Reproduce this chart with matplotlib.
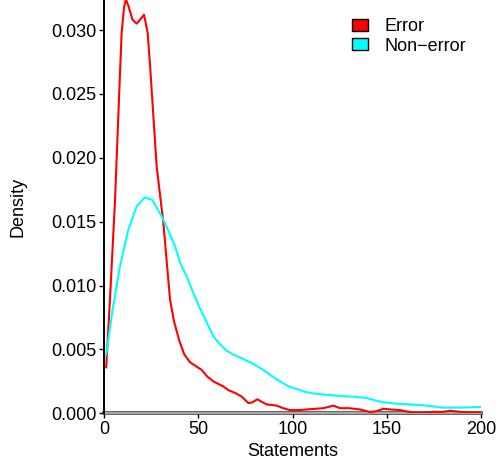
import numpy as np
import matplotlib
matplotlib.use('Agg')
import matplotlib.pyplot as plt
from matplotlib.patches import Patch

plt.rcParams['font.family'] = ['Liberation Sans', 'DejaVu Sans']

# density curves (y in units of 1e-3)
err_x = [1, 3, 5.7, 7.8, 9.2, 10.5, 11.5, 13, 15, 17.2, 19.5, 21.1, 23, 24.3, 27.8,
         31.3, 34.9, 37, 40, 42.5, 45.5, 48.5, 51.7, 54.5, 57.9, 60.5, 63.2, 66,
         69.4, 73, 76.5, 78.5, 81.3, 83.5, 86.2, 91.5, 95, 98.6, 103, 107.5, 112,
         116.3, 119, 121.6, 125.2, 130, 135.8, 141, 144, 148.2, 152, 157, 164, 170,
         175, 179, 183.6, 190, 200]
err_y = [3.6, 8.9, 16.7, 24.6, 29.8, 31.8, 32.4, 31.8, 30.8, 30.5, 30.9, 31.2, 29.8,
         27.2, 19.3, 15.0, 8.9, 7.2, 5.6, 4.6, 4.0, 3.7, 3.4, 2.9, 2.5, 2.3, 2.1, 1.8,
         1.6, 1.3, 0.8, 0.85, 1.1, 0.9, 0.7, 0.6, 0.4, 0.25, 0.25, 0.3, 0.35,
         0.4, 0.5, 0.6, 0.4, 0.4, 0.3, 0.1, 0.15, 0.35, 0.3, 0.25, 0.05, 0.05,
         0.12, 0.1, 0.2, 0.1, 0.05]

non_x = [1, 4.5, 8.3, 12.8, 17.2, 21.6, 25.5, 30.5, 34, 37.5, 40.2, 43.5, 47.3, 50.5,
         54.4, 58, 61.4, 65, 68.5, 73, 77.4, 81, 84.4, 89, 93.3, 98, 102.2, 106, 111,
         118, 125.2, 132, 139.3, 144, 148.2, 157, 167.7, 174, 180, 190, 200]
non_y = [4.6, 8.2, 11.5, 14.4, 16.2, 16.9, 16.7, 15.4, 14.3, 13.1, 11.8, 10.8, 9.4, 8.3,
         7.1, 6.0, 5.4, 4.9, 4.6, 4.3, 4.0, 3.7, 3.4, 2.9, 2.5, 2.1, 1.9, 1.7, 1.55,
         1.45, 1.36, 1.3, 1.2, 1.0, 0.86, 0.73, 0.65, 0.55, 0.44, 0.45, 0.5]

labels = ['Error', 'Non\u2212error']
colours = ['#ff0000', '#00ffff']

fig = plt.figure(figsize=(4.97, 4.59), dpi=100)
ax = fig.add_axes([104.3/497, 1 - 413.3/459, (481 - 104.3)/497, 413.3/459])

ax.plot(err_x, np.array(err_y)/1000, color=colours[0], lw=1.5, zorder=3)
ax.plot(non_x, np.array(non_y)/1000, color=colours[1], lw=1.5, zorder=3)

# baseline at zero (dark edges, grey middle)
ax.axhline(0, color='#444444', lw=2.6, zorder=2, clip_on=False)
ax.axhline(0, color='#bbbbbb', lw=1.2, zorder=2.5, clip_on=False)

ax.set_xlim(0, 200)
ax.set_ylim(0, 0.03235)
ax.set_xticks([0, 50, 100, 150, 200])
ax.set_yticks([0, 0.005, 0.010, 0.015, 0.020, 0.025, 0.030])
ax.set_yticklabels(['0.000', '0.005', '0.010', '0.015', '0.020', '0.025', '0.030'])
ax.tick_params(labelsize=13, length=3.5, width=1, colors='black', pad=2)

for sp in ['top', 'right']:
    ax.spines[sp].set_visible(False)
ax.spines['bottom'].set_visible(False)
ax.spines['left'].set_linewidth(1.4)

ax.set_xlabel('Statements', fontsize=13, labelpad=3.5)
ax.set_ylabel('Density', fontsize=13, labelpad=18)

handles = [Patch(facecolor=c, edgecolor='black', lw=1) for c in colours]
fig.legend(handles, labels, loc='upper left', bbox_to_anchor=(352/497, 1 - 18/459),
           frameon=False, fontsize=13, borderpad=0, borderaxespad=0,
           handlelength=0.9, handleheight=0.65, handletextpad=0.9, labelspacing=0.15)

plt.savefig('out.png', dpi=100)
